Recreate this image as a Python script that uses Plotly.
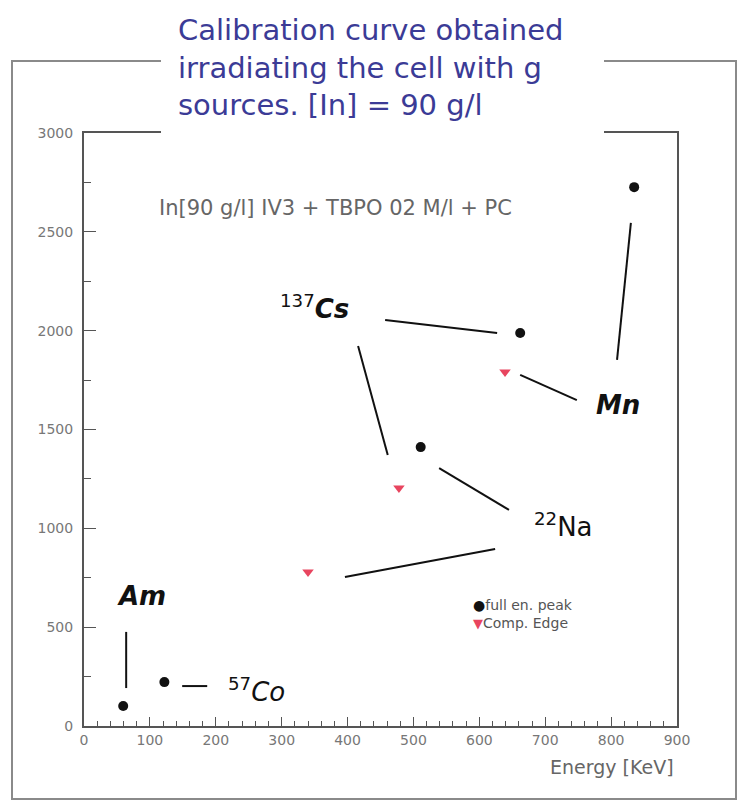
import plotly.graph_objects as go

# Full-energy peaks (keV, channel)
peak_energy = [59.5, 122, 511, 662, 835]
peak_channel = [101, 222, 1411, 1988, 2726]

# Compton edges (keV, channel)
edge_energy = [340, 478, 639]
edge_channel = [779, 1204, 1791]

x_ticks = [0, 100, 200, 300, 400, 500, 600, 700, 800, 900]
y_ticks = [0, 500, 1000, 1500, 2000, 2500, 3000]

# Source labels: (x, y, text, font size)
source_labels = [
    (88, 660, "<b><i>Am</i></b>", 26),
    (262, 180, "<sup>57</sup><i>Co</i>", 26),
    (350, 2120, "<sup>137</sup><b><i>Cs</i></b>", 26),
    (727, 1017, "<sup>22</sup>Na", 26),
    (810, 1624, "<b><i>Mn</i></b>", 26),
]

# Leader lines from the labels to the points (x0, y0, x1, y1)
leaders = [
    (64, 476, 64, 192),
    (149, 202, 187, 202),
    (457, 2054, 627, 1988),
    (416, 1922, 461, 1371),
    (539, 1305, 645, 1093),
    (396, 754, 624, 895),
    (662, 1776, 748, 1649),
    (830, 2545, 809, 1852),
]

W, H = 743, 804
L, R, T, B = 84, 66, 133, 78
PW, PH = W - L - R, H - T - B


def px_to_paper_x(px):
    return (px - L) / PW


def px_to_paper_y(py):
    return (H - B - py) / PH


fig = go.Figure()

fig.add_trace(go.Scatter(
    x=peak_energy, y=peak_channel, mode="markers",
    marker=dict(symbol="circle", size=10, color="#111111"),
    name="full en. peak", showlegend=False,
))
fig.add_trace(go.Scatter(
    x=edge_energy, y=edge_channel, mode="markers",
    marker=dict(symbol="triangle-down", size=10, color="#e8455f"),
    name="Comp. Edge", showlegend=False,
))

shapes = []
for x0, y0, x1, y1 in leaders:
    shapes.append(dict(type="line", xref="x", yref="y", x0=x0, y0=y0, x1=x1, y1=y1,
                       line=dict(color="#111111", width=2)))

# Outer frame
shapes.append(dict(type="rect", xref="paper", yref="paper",
                   x0=px_to_paper_x(12), x1=px_to_paper_x(736),
                   y0=px_to_paper_y(799), y1=px_to_paper_y(61),
                   line=dict(color="#8a8a8a", width=2), fillcolor="rgba(0,0,0,0)"))
# White box behind the heading
shapes.append(dict(type="rect", xref="paper", yref="paper",
                   x0=px_to_paper_x(161), x1=px_to_paper_x(604),
                   y0=px_to_paper_y(137), y1=px_to_paper_y(4),
                   line=dict(width=0), fillcolor="white", layer="above"))

annotations = []
for x, y, text, size in source_labels:
    annotations.append(dict(x=x, y=y, xref="x", yref="y", text=text, showarrow=False,
                            font=dict(family="DejaVu Sans", size=size, color="#111111")))

annotations.append(dict(
    x=px_to_paper_x(176), y=px_to_paper_y(68), xref="paper", yref="paper",
    xanchor="left", yanchor="middle", align="left", showarrow=False,
    text="Calibration curve obtained<br>irradiating the cell with g<br>sources. [In] = 90 g/l",
    font=dict(family="DejaVu Sans", size=29, color="#3b3b96"),
))
annotations.append(dict(
    x=381, y=2620, xref="x", yref="y", showarrow=False,
    text="In[90 g/l] IV3 + TBPO 02 M/l + PC",
    font=dict(family="DejaVu Sans", size=21, color="#666666"),
))
annotations.append(dict(
    x=px_to_paper_x(676), y=px_to_paper_y(767), xref="paper", yref="paper",
    xanchor="right", yanchor="middle", showarrow=False,
    text="Energy [KeV]",
    font=dict(family="DejaVu Sans", size=19, color="#666666"),
))
annotations.append(dict(
    x=588, y=565, xref="x", yref="y", xanchor="left", yanchor="middle",
    align="left", showarrow=False,
    text='<span style="color:#111111;font-size:14px">●</span>full en. peak<br>'
         '<span style="color:#e8455f;font-size:13px">▼</span>Comp. Edge',
    font=dict(family="DejaVu Sans", size=14, color="#555555"),
))

axis_common = dict(
    showgrid=False, zeroline=False, showline=True, mirror=True,
    linecolor="#555555", linewidth=2, ticks="inside", tickcolor="#555555",
    tickfont=dict(family="DejaVu Sans", size=14, color="#777777"),
)

fig.update_xaxes(range=[0, 900], tickvals=x_ticks, ticklen=9, tickwidth=1,
                 minor=dict(dtick=20, ticks="inside", ticklen=5, tickcolor="#555555"),
                 **axis_common)
fig.update_yaxes(range=[0, 3000], tickvals=y_ticks, ticklen=12, tickwidth=1,
                 ticklabelstandoff=6,
                 minor=dict(dtick=250, ticks="inside", ticklen=7, tickcolor="#555555"),
                 **axis_common)

fig.update_layout(
    width=W, height=H,
    margin=dict(l=L, r=R, t=T, b=B, autoexpand=False),
    paper_bgcolor="white", plot_bgcolor="white",
    shapes=shapes, annotations=annotations,
)

fig.write_html("out.html")
